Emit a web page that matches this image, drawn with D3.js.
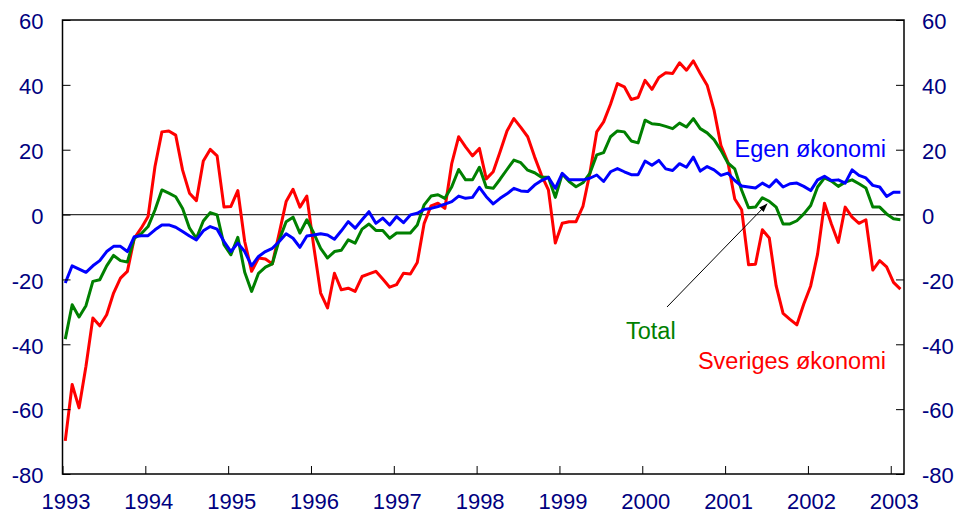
<!DOCTYPE html>
<html><head><meta charset="utf-8">
<script src="https://cdn.jsdelivr.net/npm/d3@7/dist/d3.min.js"></script>
<style>body{margin:0;background:#fff}</style>
</head><body>
<svg id="c" width="961" height="521"></svg>
<script>
const years = [1993,1994,1995,1996,1997,1998,1999,2000,2001,2002,2003];
const yTicks = [-80,-60,-40,-20,0,20,40,60];
const startYear = 1993; // monthly data from January 1993

const sveriges = [-69.8,-52.4,-59.6,-46.8,-31.9,-34.3,-30.9,-24.2,-19.6,-17.5,-7.3,-4.2,
-0.6,14.8,25.5,25.8,24.5,13.7,6.6,4.3,16.5,20.1,18.1,2.3,
2.5,7.4,-8.3,-17.5,-13.4,-13.7,-15.2,-5.7,4.0,7.8,2.3,5.7,
-9.8,-24.2,-28.8,-18.1,-23.2,-22.7,-23.7,-19.1,-18.3,-17.5,-19.9,-22.4,
-21.6,-18.1,-18.3,-14.8,-2.7,2.7,3.5,1.9,15.8,24.0,20.9,18.1,
20.4,11.0,13.2,19.4,25.8,29.6,26.9,24.0,17.8,12.2,7.6,-8.8,
-2.7,-2.2,-2.2,2.5,12.7,25.5,28.6,34.0,40.4,39.4,35.5,36.1,
41.4,38.6,42.3,43.7,43.5,46.8,44.5,47.4,43.5,39.9,32.2,21.3,
16.2,4.8,1.5,-15.5,-15.3,-4.7,-7.2,-22.0,-30.5,-32.3,-34.0,-27.6,
-22.0,-12.2,3.5,-2.9,-8.6,2.3,-0.8,-2.7,-1.6,-17.1,-14.2,-16.1,
-20.9,-23.0];

const total = [-38.4,-27.8,-31.6,-28.1,-20.6,-20.1,-15.8,-12.6,-14.2,-14.6,-7.3,-5.9,
-3.7,1.4,7.6,6.6,5.5,1.9,-4.2,-7.3,-2.0,0.6,-0.1,-9.3,
-12.4,-7.0,-17.8,-23.7,-18.1,-16.2,-15.2,-7.8,-2.2,-0.8,-5.7,-1.6,
-5.7,-10.4,-13.4,-11.4,-11.0,-7.8,-8.8,-4.5,-2.9,-4.9,-4.9,-7.3,
-5.7,-5.7,-5.7,-3.2,3.0,5.7,6.1,5.0,8.6,13.9,10.7,10.7,
14.6,8.4,8.1,10.9,13.9,16.8,16.0,13.7,12.9,11.5,11.5,5.3,
12.5,10.2,8.6,9.8,12.7,18.4,19.1,24.0,25.8,25.5,22.7,22.1,
29.1,28.0,27.8,27.2,26.5,28.2,27.0,29.6,26.5,25.2,23.1,19.8,
15.9,14.1,7.5,2.1,2.3,5.2,4.1,2.3,-2.9,-2.9,-1.9,0.2,
2.8,8.5,11.3,10.3,8.7,10.0,10.7,9.5,8.2,2.3,2.3,0.2,
-1.3,-1.6];

const egen = [-21.1,-15.8,-16.8,-17.8,-15.8,-14.2,-11.4,-9.8,-9.8,-11.4,-6.8,-6.5,
-6.5,-4.7,-3.2,-3.2,-3.9,-5.2,-6.6,-7.8,-5.0,-3.7,-4.5,-8.3,
-11.4,-8.8,-11.4,-15.8,-12.9,-11.4,-10.4,-8.3,-5.9,-7.3,-10.1,-6.6,
-6.3,-5.9,-6.3,-7.6,-5.0,-2.2,-4.2,-1.6,0.9,-2.7,-1.1,-3.2,
-0.6,-2.5,-0.1,0.4,1.6,1.9,2.5,3.2,4.0,5.7,5.0,5.3,
8.4,5.5,3.3,5.0,6.4,8.1,7.3,7.1,9.1,10.5,11.5,8.1,
12.7,10.7,10.7,10.7,11.2,12.2,10.2,13.2,14.2,13.2,12.3,12.3,
16.5,15.2,16.7,14.1,13.6,15.7,14.6,17.7,13.4,14.8,13.8,12.1,
12.8,10.5,8.8,8.5,8.2,9.7,8.5,10.7,8.5,9.5,9.7,8.7,
7.4,10.7,11.8,10.5,10.7,9.7,13.8,12.1,11.3,9.0,8.5,5.6,
6.9,6.9];

const seriesLabels = ["Sveriges økonomi","Total","Egen økonomi"];

const svg = d3.select("#c");
svg.append("rect").attr("width",961).attr("height",521).attr("fill","#fff");

const x = d3.scaleLinear().domain([1993, 2003.16]).range([62.5, 904]);
const y = d3.scaleLinear().domain([-80, 60]).range([474, 20]);
const tOf = i => startYear + (i + 0.4) / 12;

const axisColor = "#000080";
const fontFam = "'Liberation Sans', Arial, Helvetica, sans-serif";

// zero line
svg.append("line")
  .attr("x1", x.range()[0]).attr("x2", x.range()[1])
  .attr("y1", y(0)).attr("y2", y(0))
  .attr("stroke", "#333").attr("stroke-width", 1.3);

// series
const line = d3.line().x((d,i) => x(tOf(i))).y(d => y(d));
const series = [
  {data: sveriges, color: "#ff0000"},
  {data: total, color: "#008000"},
  {data: egen, color: "#0000ff"}
];
series.forEach(s => {
  svg.append("path").datum(s.data)
    .attr("d", line)
    .attr("fill","none")
    .attr("stroke", s.color)
    .attr("stroke-width", 3)
    .attr("stroke-linejoin","round");
});

// frame
svg.append("rect")
  .attr("x", x.range()[0]).attr("y", y(60))
  .attr("width", x.range()[1]-x.range()[0])
  .attr("height", y(-80)-y(60))
  .attr("fill","none").attr("stroke","#000").attr("stroke-width",1.5);

function styleAxis(g){
  g.select(".domain").remove();
  g.selectAll(".tick line").attr("stroke","#000").attr("stroke-width",1);
  g.selectAll(".tick text").attr("fill", axisColor)
    .style("font-family", fontFam).style("font-size","22px");
}
const plainFmt = d => String(d);

svg.append("g").attr("transform",`translate(${x.range()[0]},0)`)
  .call(d3.axisLeft(y).tickValues(yTicks).tickFormat(plainFmt).tickSizeInner(-8).tickSizeOuter(0).tickPadding(19))
  .call(styleAxis)
  .call(g => g.selectAll(".tick text").attr("dy","0.4em"));

svg.append("g").attr("transform",`translate(${x.range()[1]},0)`)
  .call(d3.axisRight(y).tickValues(yTicks).tickFormat(plainFmt).tickSizeInner(-8).tickSizeOuter(0).tickPadding(18))
  .call(styleAxis)
  .call(g => g.selectAll(".tick text").attr("dy","0.4em"));

svg.append("g").attr("transform",`translate(0,${y(-80)})`)
  .call(d3.axisBottom(x).tickValues(years).tickFormat(plainFmt).tickSizeInner(-8).tickSizeOuter(0).tickPadding(19))
  .call(styleAxis)
  .call(g => g.selectAll(".tick text").attr("dx","3"));

// annotations
const ann = svg.append("g").style("font-family", fontFam).style("font-size","23.5px");
ann.append("text").attr("x",886).attr("y",156.5).attr("text-anchor","end")
  .attr("fill","#0000ff").text(seriesLabels[2]);
ann.append("text").attr("x",626).attr("y",338.5)
  .attr("fill","#008000").text(seriesLabels[1]);
ann.append("text").attr("x",886).attr("y",368.5).attr("text-anchor","end")
  .attr("fill","#ff0000").text(seriesLabels[0]);

// arrow
svg.append("defs").append("marker")
  .attr("id","ah").attr("viewBox","0 0 10 10").attr("refX",9).attr("refY",5)
  .attr("markerWidth",9).attr("markerHeight",9).attr("orient","auto")
  .append("path").attr("d","M0,1.5 L10,5 L0,8.5 Z").attr("fill","#000");
svg.append("line")
  .attr("x1",667).attr("y1",307).attr("x2",767).attr("y2",204)
  .attr("stroke","#000").attr("stroke-width",1)
  .attr("marker-end","url(#ah)");
</script>
</body></html>
